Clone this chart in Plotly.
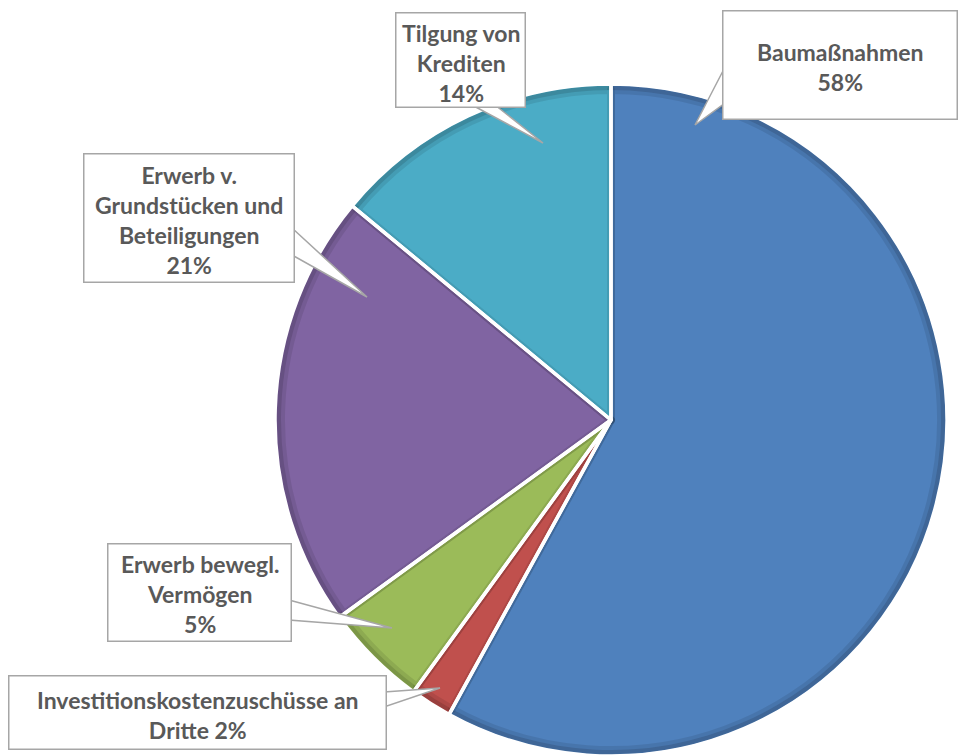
import plotly.graph_objects as go

# Investment spending shares (percent), clockwise from 12 o'clock
categories = [
    "Baumaßnahmen",
    "Investitionskostenzuschüsse an Dritte",
    "Erwerb bewegl. Vermögen",
    "Erwerb v. Grundstücken und Beteiligungen",
    "Tilgung von Krediten",
]
shares = [58, 2, 5, 21, 14]
label_templates = [
    "Baumaßnahmen<br>{p}%",
    "Investitionskostenzuschüsse an<br>Dritte {p}%",
    "Erwerb bewegl.<br>Vermögen<br>{p}%",
    "Erwerb v.<br>Grundstücken und<br>Beteiligungen<br>{p}%",
    "Tilgung von<br>Krediten<br>{p}%",
]
colors = ["#4F81BD", "#C0504D", "#9BBB59", "#8064A2", "#4BACC6"]
rim_colors = ["#4671A6", "#A94644", "#88A54E", "#71588F", "#4297AE"]

# Canvas and pie geometry (pixels)
W, H = 961, 756
CX, CY = 611, 420
R_RIM = 335
R_FILL = 330
R_SEP = 336


def px_x(x):
    return x / W


def px_y(y):
    return 1 - y / H


def pie_domain(r):
    return dict(
        x=[px_x(CX - r), px_x(CX + r)],
        y=[max(0.0, px_y(CY + r)), min(1.0, px_y(CY - r))],
    )


# Callout boxes: (x0, y0, x1, y1), side of the pointer, pointer base span, pointer tip
callouts = [
    dict(box=(722, 10, 958, 120), side="left", base=(67, 103), tip=(695, 125)),
    dict(box=(8, 675, 387, 750), side="right", base=(692, 707), tip=(440, 688)),
    dict(box=(107, 543, 292, 642), side="right", base=(600, 620), tip=(392, 628)),
    dict(box=(83, 153, 295, 283), side="right", base=(228, 255), tip=(367, 297)),
    dict(box=(395, 12, 526, 108), side="bottom", base=(472, 495), tip=(543, 143)),
]
text_shift = [-2, -2, -1, -2, -3]

fig = go.Figure()

common = dict(
    labels=categories,
    values=shares,
    sort=False,
    direction="clockwise",
    rotation=0,
    textinfo="none",
    showlegend=False,
)

# Darker outer rim of each slice
fig.add_trace(go.Pie(
    **common,
    marker=dict(colors=rim_colors, line=dict(width=0)),
    hoverinfo="skip",
    domain=pie_domain(R_RIM),
))

# Slice faces with a soft bevel along the edges
fig.add_trace(go.Pie(
    **common,
    marker=dict(colors=colors, line=dict(color="rgba(0,0,0,0.09)", width=8)),
    hoverinfo="label+percent",
    domain=pie_domain(R_FILL),
))

# White separators between the slices
fig.add_trace(go.Pie(
    **common,
    marker=dict(colors=["rgba(0,0,0,0)"] * len(shares),
                line=dict(color="#FFFFFF", width=3.5)),
    hoverinfo="skip",
    domain=pie_domain(R_SEP),
))

BORDER = "#A6A6A6"
BW = 1.5
shapes = []
annotations = []
for tmpl, val, c, dy in zip(label_templates, shares, callouts, text_shift):
    x0, y0, x1, y1 = c["box"]
    a, b = c["base"]
    tx, ty = c["tip"]
    if c["side"] == "left":
        p1, p2 = (x0 + 3, a), (x0 + 3, b)
    elif c["side"] == "right":
        p1, p2 = (x1 - 3, a), (x1 - 3, b)
    else:
        p1, p2 = (a, y1 - 3), (b, y1 - 3)
    path = "M {} {} L {} {} L {} {} Z".format(
        px_x(p1[0]), px_y(p1[1]), px_x(tx), px_y(ty), px_x(p2[0]), px_y(p2[1]))
    shapes.append(dict(
        type="path", path=path, xref="paper", yref="paper",
        fillcolor="#FFFFFF", line=dict(color=BORDER, width=BW), layer="above",
    ))
    # box outline and background
    annotations.append(dict(
        text="",
        xref="paper", yref="paper",
        x=px_x((x0 + x1) / 2), y=px_y((y0 + y1) / 2),
        xanchor="center", yanchor="middle",
        width=(x1 - x0) - 2 * BW, height=(y1 - y0) - 2 * BW,
        showarrow=False,
        bgcolor="#FFFFFF", bordercolor=BORDER, borderwidth=BW, borderpad=0,
    ))
    # label text
    annotations.append(dict(
        text=tmpl.format(p=val),
        xref="paper", yref="paper",
        x=px_x((x0 + x1) / 2), y=px_y((y0 + y1) / 2),
        xanchor="center", yanchor="middle", yshift=dy,
        align="center",
        showarrow=False,
        font=dict(family="Lato, Carlito, sans-serif", size=23, color="#595959", weight=700),
    ))

fig.update_layout(
    width=W, height=H,
    margin=dict(l=0, r=0, t=0, b=0),
    paper_bgcolor="#FFFFFF",
    plot_bgcolor="#FFFFFF",
    showlegend=False,
    shapes=shapes,
    annotations=annotations,
)

fig.write_html("out.html")
